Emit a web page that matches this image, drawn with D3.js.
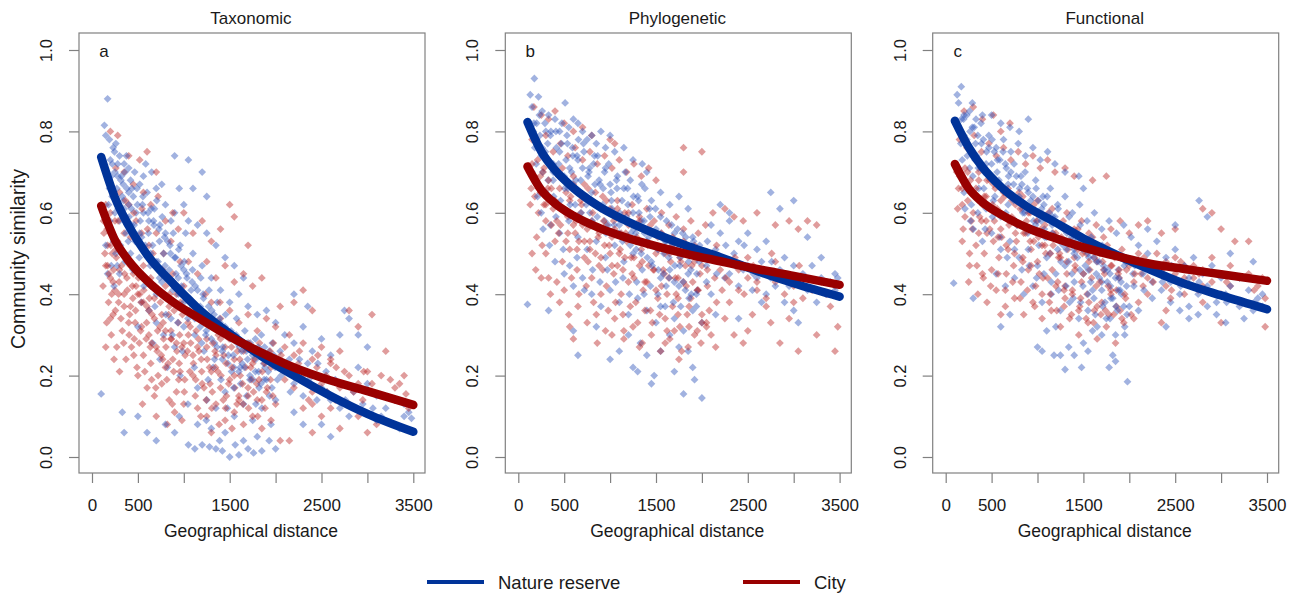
<!DOCTYPE html>
<html>
<head>
<meta charset="utf-8">
<script src="https://cdn.jsdelivr.net/npm/d3@7"></script>
<style>
  body { margin: 0; background: #fff; }
  text { font-family: "Liberation Sans", Arial, sans-serif; fill: #1a1a1a; }
</style>
</head>
<body>
<div id="chart"></div>
<script>
// fitted curves
var fitDist = [100, 250, 400, 600, 900, 1150, 1500, 1850, 2200, 2600, 3000, 3500]
var taxBlueFit = [.737, .637, .568, .497, .422, .366, .303, .247, .200, .150, .106, .062]
var taxRedFit = [.617, .533, .482, .433, .378, .343, .296, .256, .220, .188, .162, .128]
var phyBlueFit = [.823, .751, .705, .661, .613, .583, .548, .518, .491, .457, .427, .394]
var phyRedFit = [.714, .656, .623, .593, .561, .541, .518, .498, .481, .462, .445, .423]
var funBlueFit = [.826, .761, .712, .664, .613, .582, .537, .498, .463, .426, .397, .363]
var funRedFit = [.720, .660, .626, .596, .562, .541, .515, .494, .476, .462, .449, .433]

// scatter points [distance, similarity]
var taxBlue = [[170,.88],[135,.815],[150,.79],[190,.78],[230,.76],[260,.77],[300,.74],[350,.72],[200,.73],[250,.70],[280,.72],[320,.69],[360,.70],[400,.71],[420,.68],[380,.66],[330,.64],[270,.66],[220,.64],[180,.62],[160,.58],[200,.56],[250,.60],[300,.58],[350,.61],[400,.62],[450,.64],[480,.60],[430,.57],[370,.55],[310,.52],[260,.50],[210,.47],[170,.45],[150,.52],[240,.42],[300,.45],[360,.48],[420,.50],[470,.53],
  [520,.67],[560,.69],[600,.65],[650,.70],[700,.66],[760,.67],[800,.62],[560,.60],[620,.58],[680,.61],[740,.57],[800,.55],[860,.58],[900,.60],[950,.66],[1000,.62],[540,.54],[600,.50],[660,.52],[720,.48],[780,.50],[840,.46],[900,.49],[960,.52],[1020,.55],[580,.44],[640,.42],[700,.40],[760,.43],[820,.39],[880,.41],[940,.44],[1000,.46],[620,.36],[700,.33],[780,.30],[860,.34],[940,.37],[1000,.32],[660,.28],[740,.24],[820,.22],[900,.27],[960,.20],[540,.38],[500,.32],[900,.74],[1050,.73],[1200,.70],[1100,.66],[1250,.64],
  [1050,.58],[1150,.57],[1250,.55],[1350,.52],[1450,.49],[1550,.47],[1650,.44],[1100,.50],[1200,.47],[1300,.44],[1400,.41],[1500,.38],[1600,.40],[1700,.37],[1800,.35],[1900,.36],[2000,.33],[1080,.41],[1180,.37],[1280,.34],[1380,.31],[1480,.30],[1580,.28],[1680,.26],[1780,.29],[1880,.27],[1980,.25],[1120,.30],[1220,.26],[1320,.22],[1420,.24],[1520,.21],[1620,.18],[1720,.20],[1820,.17],[1920,.21],[2020,.19],[1150,.17],[1250,.14],[1350,.12],[1450,.16],[1550,.10],[1650,.13],[1750,.09],[1850,.12],[1950,.08],[1050,.03],[1120,.02],[1200,.03],[1280,.025],[1350,.02],[1420,.015],[1500,.0],[1600,.005],[1700,.02],[1850,.015],[2000,.02],[1150,.08],[1300,.07],[1450,.06],[1650,.04],[1800,.05],[900,.06],[950,.10],[800,.08],[700,.04],[600,.06],[500,.10],[350,.06],[330,.11],[100,.155],
  [2100,.30],[2200,.28],[2300,.32],[2400,.26],[2500,.29],[2600,.25],[2100,.22],[2200,.18],[2300,.15],[2400,.20],[2500,.17],[2600,.14],[2700,.12],[2800,.10],[2700,.30],[2800,.34],[2900,.30],[3000,.27],[2900,.22],[3000,.18],[3100,.15],[3200,.12],[3300,.14],[3400,.10],[3450,.11],[2300,.08],[2500,.08],[2750,.36],[3100,.09],[3300,.08],[3400,.13],[2600,.05],[2200,.11],[2000,.14],[2350,.37],[2200,.40]]
var taxBlueMore = [[210,.69],[245,.75],[285,.61],[315,.68],[345,.63],[375,.74],[405,.59],[435,.66],[465,.70],[495,.62],[525,.58],[555,.64],[585,.72],[615,.55],[645,.61],[675,.57],[705,.63],[735,.53],[765,.59],[795,.47],[825,.53],[855,.50],[885,.55],[915,.45],[945,.51],[975,.42],[1005,.48],[1035,.44],[1065,.39],[1095,.46],[1125,.42],[1155,.35],[1185,.44],[1215,.39],[1245,.31],[1275,.41],[1305,.36],[1335,.28],[1365,.38],[1395,.33],[1425,.27],[1455,.35],[1485,.25],[1515,.31],[1545,.22],[1575,.34],[1605,.27],[1635,.23],[1665,.31],[1695,.24],[1725,.28],[1755,.19],[1785,.24],[1815,.21],[1845,.30],[1875,.19],[1905,.24],[1935,.15],[1965,.28],[1995,.22],[2050,.26],[2150,.24],[2250,.21],[2350,.23],[2450,.14],[2550,.21],[2650,.19],[2850,.16],[2950,.13],[3150,.10],[3350,.07],[3480,.095],[195,.58],[235,.53],[275,.47],[395,.53],[445,.46],[515,.49],[565,.42],[635,.47],[685,.37],[735,.44],[805,.35],[875,.30],[935,.33],[985,.26],[1045,.34],[1115,.22],[1195,.28],[1265,.19],[1335,.24],[1405,.19],[1475,.12],[1545,.17],[1615,.22],[1685,.15],[1785,.13],[1885,.22],[1045,.13],[1245,.09],[1390,.04],[1560,.03],[1760,.01],[1930,.04]]
var taxBlueCore = [[160,.70],[190,.66],[220,.72],[250,.64],[280,.69],[310,.61],[340,.67],[370,.59],[400,.65],[430,.61],[460,.57],[490,.66],[520,.55],[550,.62],[580,.52],[610,.60],[640,.50],[670,.58],[700,.48],[730,.56],[760,.46],[790,.54],[820,.44],[850,.52],[880,.43],[910,.49],[940,.40],[970,.47],[1000,.38],[1030,.45],[1060,.36],[1090,.43],[1120,.34],[1150,.41],[1180,.32],[1210,.40],[1240,.30],[1270,.37],[1300,.29],[1330,.35],[1360,.27],[1390,.34],[1420,.26],[1450,.32],[1480,.23],[1510,.29],[1540,.25],[1570,.30],[1600,.21],[1630,.26],[1660,.22],[1690,.28],[1720,.19],[1750,.25],[1780,.21],[1810,.27],[1840,.18],[1870,.23],[1900,.19],[1930,.26],[1960,.17],[1990,.23],[2060,.20],[2160,.16],[2260,.24],[2360,.19],[2460,.23],[2560,.16],[2760,.14],[3060,.12]]

var taxRed = [[200,.80],[280,.79],[400,.74],[350,.70],[260,.71],[180,.68],[220,.66],[300,.65],[150,.62],[200,.60],[250,.58],[320,.60],[400,.62],[450,.67],[130,.55],[170,.52],[220,.50],[280,.53],[350,.55],[420,.54],[480,.58],[150,.47],[200,.44],[250,.41],[300,.46],[380,.48],[450,.45],[120,.42],[180,.38],[230,.35],[290,.38],[350,.40],[420,.37],[480,.42],[160,.33],[210,.30],[270,.27],[330,.31],[400,.33],[460,.29],[240,.24],[300,.21],[370,.24],[430,.27],[490,.22],[150,.27],[200,.34],
  [520,.73],[600,.75],[700,.70],[560,.65],[640,.62],[720,.64],[800,.58],[880,.60],[540,.55],[620,.52],[700,.55],[780,.50],[860,.53],[940,.56],[1000,.60],[560,.47],[640,.44],[720,.46],[800,.42],[880,.45],[960,.48],[520,.40],[600,.37],[680,.39],[760,.35],[840,.37],[920,.40],[1000,.42],[540,.32],[620,.30],[700,.27],[780,.29],[860,.31],[940,.33],[1000,.28],[560,.25],[640,.23],[720,.20],[800,.22],[880,.24],[960,.21],[600,.17],[680,.15],[760,.18],[840,.14],[920,.16],[1000,.13],[820,.08],[900,.11],[980,.09],[700,.10],[550,.13],[650,.19],[500,.20],
  [1100,.55],[1200,.58],[1300,.53],[1400,.56],[1500,.62],[1550,.59],[1700,.52],[1050,.48],[1150,.45],[1250,.48],[1350,.44],[1450,.47],[1550,.43],[1650,.45],[1750,.42],[1850,.44],[1100,.38],[1200,.35],[1300,.38],[1400,.34],[1500,.36],[1600,.33],[1700,.35],[1800,.31],[1900,.34],[2000,.32],[1050,.30],[1150,.27],[1250,.29],[1350,.25],[1450,.27],[1550,.24],[1650,.26],[1750,.23],[1850,.25],[1950,.22],[1100,.20],[1200,.18],[1300,.21],[1400,.17],[1500,.19],[1600,.15],[1700,.17],[1800,.14],[1900,.16],[2000,.13],[1150,.12],[1250,.10],[1350,.13],[1450,.09],[1550,.11],[1650,.08],[1750,.10],[1850,.07],[1950,.09],[2050,.04],[2150,.04],[1300,.06],[1600,.14],
  [2200,.38],[2300,.41],[2400,.36],[2100,.27],[2200,.25],[2300,.28],[2400,.24],[2500,.27],[2600,.23],[2700,.26],[2100,.19],[2200,.17],[2300,.20],[2400,.16],[2500,.18],[2600,.15],[2700,.17],[2800,.20],[2900,.18],[2300,.12],[2400,.13],[2500,.10],[2600,.12],[2800,.13],[2400,.06],[2700,.07],[2900,.10],[3000,.06],[3100,.08],[2800,.36],[2900,.32],[3050,.35],[3000,.21],[3150,.20],[3250,.19],[3350,.18],[3400,.20],[3300,.14],[3450,.12],[3200,.26],[2600,.24],[2050,.37]]
var taxRedMore = [[125,.58],[165,.56],[205,.52],[235,.46],[265,.49],[295,.43],[325,.50],[355,.45],[385,.41],[415,.47],[445,.39],[475,.36],[505,.44],[535,.38],[565,.41],[595,.33],[625,.39],[655,.35],[685,.42],[715,.31],[745,.38],[775,.33],[805,.27],[835,.35],[865,.29],[895,.36],[925,.26],[955,.30],[985,.35],[1015,.25],[1045,.33],[1075,.28],[1105,.23],[1135,.31],[1165,.26],[1195,.21],[1225,.33],[1255,.24],[1285,.18],[1315,.28],[1345,.22],[1375,.30],[1405,.20],[1435,.25],[1465,.15],[1495,.29],[1525,.22],[1555,.17],[1585,.26],[1615,.20],[1645,.13],[1675,.22],[1705,.28],[1735,.19],[1765,.24],[1795,.18],[1825,.28],[1855,.21],[1885,.12],[1915,.25],[1945,.19],[1975,.28],[2050,.22],[2150,.30],[2250,.23],[2350,.18],[2450,.22],[2550,.20],[2650,.14],[2750,.21],[2850,.16],[2950,.14],[3050,.18],[3150,.15],[3300,.17],[3420,.155],[185,.45],[215,.40],[255,.36],[315,.34],[345,.28],[405,.30],[455,.25],[515,.28],[575,.21],[635,.27],[695,.17],[755,.25],[815,.19],[875,.13],[945,.19],[1005,.16],[1065,.21],[1125,.15],[1185,.10],[1245,.14],[1305,.12],[1385,.08],[1455,.12],[1525,.07],[1705,.12],[1805,.10],[285,.58],[365,.63],[455,.60],[545,.61],[605,.56],[665,.50],[765,.46],[845,.40],[965,.38],[1235,.40],[1395,.38]]
var taxRedCore = [[140,.50],[170,.47],[200,.55],[230,.43],[260,.51],[290,.40],[320,.47],[350,.37],[380,.44],[410,.35],[440,.42],[470,.33],[500,.40],[530,.31],[560,.38],[590,.29],[620,.36],[650,.28],[680,.34],[710,.26],[740,.32],[770,.24],[800,.31],[830,.23],[860,.29],[890,.21],[920,.28],[950,.23],[980,.27],[1010,.19],[1040,.26],[1070,.32],[1100,.25],[1130,.19],[1160,.29],[1190,.24],[1220,.17],[1250,.27],[1280,.22],[1310,.16],[1340,.26],[1370,.21],[1400,.29],[1430,.14],[1460,.23],[1490,.18],[1520,.27],[1550,.20],[1580,.13],[1610,.24],[1640,.18],[1670,.27],[1700,.15],[1730,.22],[1760,.16],[1790,.26],[1820,.19],[1850,.14],[1880,.23],[1910,.17],[1940,.26],[1970,.15],[2060,.25],[2160,.21],[2260,.26],[2360,.14],[2460,.25],[2560,.16],[2660,.22],[2960,.21]]

var phyBlue = [[175,.93],[130,.89],[220,.885],[510,.87],[150,.86],[260,.85],[330,.84],[400,.83],[300,.80],[200,.82],[450,.80],[550,.81],[600,.83],[650,.82],[700,.80],[750,.78],[800,.79],[850,.77],[900,.80],[950,.76],[1000,.79],[1050,.75],[1150,.76],[1250,.73],[1350,.72],[1400,.70],[180,.76],[250,.74],[320,.77],[380,.72],[450,.75],[520,.73],[580,.70],[640,.74],[700,.71],[760,.69],[820,.72],[880,.68],[940,.70],[1000,.67],[1080,.69],[1150,.66],[1220,.68],[1300,.64],[1380,.66],[1450,.63],[1550,.65],[1650,.62],[1750,.64],[1850,.61],
  [150,.70],[220,.67],[300,.65],[380,.68],[460,.63],[540,.66],[620,.62],[700,.64],[780,.60],[860,.62],[940,.58],[1020,.61],[1100,.57],[1180,.59],[1260,.56],[1340,.58],[1420,.54],[1500,.56],[1600,.53],[1700,.55],[1800,.52],[1900,.54],[2000,.50],[250,.60],[350,.57],[450,.55],[550,.58],[650,.54],[750,.51],[850,.53],[950,.49],[1050,.52],[1150,.48],[1250,.50],[1350,.46],[1450,.48],[1550,.44],[1650,.46],[1750,.42],[1850,.45],[1950,.41],[2050,.43],
  [400,.48],[500,.45],[600,.42],[700,.44],[800,.40],[900,.37],[1000,.41],[1100,.38],[1200,.35],[1300,.39],[1400,.36],[1500,.33],[1600,.37],[1700,.34],[1800,.31],[1900,.36],[2000,.33],[100,.375],[330,.36],[600,.31],[650,.25],[850,.32],[1000,.24],[1100,.26],[1200,.30],[1250,.22],[1300,.21],[1330,.28],[1400,.25],[1450,.18],[1480,.20],[1550,.26],[1700,.21],[1750,.27],[1800,.155],[1850,.26],[1900,.22],[1920,.19],[2000,.145],[1650,.30],[1550,.37],
  [2100,.57],[2200,.55],[2300,.58],[2400,.53],[2500,.55],[2600,.51],[2700,.53],[2750,.65],[2850,.61],[3000,.63],[2900,.49],[3000,.47],[3100,.45],[3200,.47],[3300,.44],[3400,.43],[3450,.45],[3480,.44],[2200,.48],[2300,.45],[2400,.42],[2500,.47],[2600,.44],[2700,.40],[2800,.42],[2900,.38],[3000,.36],[3050,.33],[3250,.38],[3150,.54],[3300,.49],[2150,.35],[2400,.34],[2650,.38],[2100,.40],[2200,.62],[2300,.60]]
var phyBlueMore = [[165,.80],[195,.72],[235,.79],[265,.70],[295,.75],[325,.68],[355,.80],[385,.64],[415,.76],[445,.69],[475,.82],[505,.66],[535,.77],[565,.62],[595,.74],[625,.68],[655,.78],[685,.60],[715,.75],[745,.64],[775,.71],[805,.58],[835,.67],[865,.74],[895,.61],[925,.66],[955,.55],[985,.72],[1015,.63],[1045,.57],[1075,.66],[1105,.60],[1135,.53],[1165,.70],[1195,.62],[1225,.55],[1255,.64],[1285,.51],[1315,.60],[1345,.67],[1375,.55],[1405,.49],[1435,.59],[1465,.52],[1495,.61],[1525,.46],[1555,.55],[1585,.50],[1615,.58],[1645,.44],[1675,.52],[1705,.47],[1735,.56],[1765,.49],[1795,.43],[1825,.54],[1855,.48],[1885,.40],[1915,.50],[1945,.45],[1975,.52],[2050,.47],[2150,.51],[2250,.44],[2350,.50],[2450,.46],[2550,.41],[2650,.48],[2750,.44],[2850,.46],[2950,.42],[3150,.41],[3350,.40],[3450,.41],[210,.64],[270,.56],[340,.52],[410,.59],[490,.51],[560,.47],[640,.49],[720,.41],[810,.46],[890,.43],[970,.46],[1060,.43],[1140,.44],[1210,.40],[1290,.43],[1370,.40],[1440,.42],[1520,.40],[1610,.42],[1690,.38],[1770,.37],[1860,.39],[1940,.37]]
var phyBlueCore = [[170,.82],[200,.78],[230,.84],[260,.76],[290,.82],[320,.73],[350,.79],[380,.70],[410,.80],[440,.72],[470,.77],[500,.69],[530,.79],[560,.71],[590,.76],[620,.66],[650,.73],[680,.68],[710,.77],[740,.62],[770,.70],[800,.65],[830,.74],[860,.59],[890,.67],[920,.62],[950,.71],[980,.57],[1010,.65],[1040,.60],[1070,.68],[1100,.55],[1130,.63],[1160,.58],[1190,.66],[1220,.52],[1250,.60],[1280,.55],[1310,.63],[1340,.50],[1370,.58],[1400,.53],[1430,.61],[1460,.47],[1490,.55],[1520,.51],[1550,.59],[1580,.45],[1610,.53],[1640,.49],[1670,.57],[1700,.43],[1730,.51],[1760,.47],[1790,.55],[1820,.41],[1850,.50],[1880,.46],[1910,.53],[1940,.40],[1970,.48],[2060,.53],[2160,.45],[2260,.52],[2360,.47],[2460,.52],[2560,.45],[2760,.48],[3060,.44],[3360,.43]]

var phyRed = [[170,.86],[250,.84],[330,.83],[400,.85],[500,.82],[600,.80],[700,.81],[800,.79],[1000,.78],[1050,.77],[150,.78],[220,.76],[300,.79],[380,.75],[460,.77],[540,.74],[620,.76],[700,.73],[780,.75],[860,.72],[940,.74],[1020,.71],[1100,.73],[1180,.70],[1260,.72],[1340,.69],[1420,.71],[1500,.68],[1800,.76],[2000,.75],[1800,.70],
  [120,.70],[200,.68],[280,.71],[360,.66],[440,.69],[520,.65],[600,.67],[680,.63],[760,.66],[840,.62],[920,.64],[1000,.61],[1080,.63],[1160,.60],[1240,.62],[1320,.59],[1400,.61],[1480,.58],[1560,.60],[1640,.57],[1720,.59],[1800,.56],[1880,.58],[1960,.55],[2040,.57],[2120,.60],[2250,.61],[2350,.59],[2450,.58],[2600,.60],[2800,.57],[2950,.58],[3050,.56],[3150,.58],[3250,.57],
  [130,.62],[220,.60],[300,.58],[380,.61],[460,.57],[540,.59],[620,.55],[700,.57],[780,.53],[860,.56],[940,.52],[1020,.54],[1100,.50],[1180,.53],[1260,.49],[1340,.51],[1420,.47],[1500,.50],[1580,.46],[1660,.48],[1740,.44],[1820,.47],[1900,.43],[1980,.45],[2060,.42],[2140,.44],[2220,.41],[2300,.43],[2400,.46],[2500,.44],[2600,.41],[2700,.45],[2800,.43],[2900,.40],[3000,.42],[3100,.39],[3200,.41],
  [200,.54],[300,.50],[400,.53],[480,.48],[560,.51],[640,.46],[720,.49],[800,.44],[880,.47],[960,.42],[1040,.45],[1120,.40],[1200,.43],[1280,.38],[1360,.41],[1440,.36],[1520,.39],[1600,.34],[1680,.37],[1760,.32],[1840,.35],[1920,.30],[2000,.33],[2080,.36],[2160,.38],[250,.44],[350,.40],[450,.38],[550,.35],[650,.37],[750,.33],[850,.35],[950,.31],[1050,.34],[1150,.29],[1250,.32],[1350,.28],[1450,.30],[1550,.26],[1650,.29],[1750,.24],[1850,.27],[1950,.31],[2050,.33],[2150,.27],[2350,.30],[2450,.28],[2850,.28],[3050,.26],[3250,.30],[3450,.26],[3480,.32],[3400,.37],[2550,.35],[2750,.33],[2950,.34],[150,.50],[600,.29],[1150,.31],[1700,.31],[2000,.35],[2050,.32]]
var phyRedMore = [[140,.66],[180,.64],[240,.69],[280,.62],[320,.66],[360,.57],[400,.63],[440,.55],[480,.61],[520,.53],[560,.63],[600,.57],[640,.51],[680,.60],[720,.53],[760,.48],[800,.58],[840,.50],[880,.55],[920,.46],[960,.57],[1000,.50],[1040,.58],[1080,.47],[1120,.55],[1160,.49],[1200,.57],[1240,.45],[1280,.53],[1320,.47],[1360,.56],[1400,.43],[1440,.52],[1480,.46],[1520,.54],[1560,.42],[1600,.50],[1640,.44],[1680,.52],[1720,.40],[1760,.49],[1800,.43],[1840,.51],[1880,.39],[1920,.48],[1960,.41],[2000,.47],[2100,.49],[2200,.46],[2300,.38],[2400,.41],[2500,.49],[2600,.43],[2700,.39],[2800,.48],[2900,.45],[3000,.38],[3100,.44],[3300,.43],[3450,.42],[190,.46],[260,.52],[330,.44],[420,.43],[500,.41],[580,.44],[660,.40],[740,.42],[820,.38],[900,.40],[980,.36],[1060,.38],[1140,.35],[1220,.37],[1300,.33],[1380,.36],[1460,.33],[1540,.35],[1620,.31],[1740,.35],[1860,.32],[1990,.28],[2100,.30],[2250,.34],[2500,.31],[2700,.37],[560,.32],[860,.28],[1020,.30],[1320,.27],[1600,.28],[1780,.26]]
var phyRedCore = [[150,.72],[180,.69],[210,.73],[240,.65],[270,.70],[300,.62],[330,.68],[360,.72],[390,.63],[420,.58],[450,.66],[480,.71],[510,.60],[540,.55],[570,.64],[600,.69],[630,.58],[660,.53],[690,.62],[720,.67],[750,.56],[780,.51],[810,.60],[840,.65],[870,.54],[900,.49],[930,.58],[960,.63],[990,.52],[1020,.47],[1050,.56],[1080,.61],[1110,.51],[1140,.46],[1170,.55],[1200,.60],[1230,.49],[1260,.44],[1290,.54],[1320,.58],[1350,.48],[1380,.43],[1410,.52],[1440,.57],[1470,.46],[1500,.41],[1530,.51],[1560,.55],[1590,.45],[1620,.40],[1650,.50],[1680,.54],[1710,.44],[1740,.39],[1770,.48],[1800,.53],[1830,.42],[1860,.37],[1890,.47],[1920,.52],[1950,.41],[2060,.46],[2160,.52],[2260,.44],[2360,.49],[2460,.40],[2560,.47],[2760,.50],[3060,.47],[3360,.40]]

var funBlue = [[170,.91],[125,.89],[140,.87],[290,.87],[200,.84],[260,.85],[330,.83],[400,.84],[500,.84],[600,.82],[700,.81],[800,.80],[900,.83],[150,.80],[230,.78],[310,.81],[390,.77],[470,.79],[550,.76],[630,.78],[710,.75],[790,.77],[870,.74],[950,.76],[1030,.73],[1110,.75],[1190,.72],[1300,.70],[1450,.69],[1500,.66],
  [180,.73],[260,.71],[340,.74],[420,.70],[500,.72],[580,.68],[660,.71],[740,.67],[820,.69],[900,.65],[980,.68],[1060,.64],[1140,.66],[1220,.62],[1300,.64],[1380,.60],[1460,.62],[1540,.58],[1620,.60],[1700,.56],[1780,.58],[1860,.55],[1940,.57],[2020,.54],[200,.65],[280,.62],[360,.66],[440,.61],[520,.63],[600,.59],[680,.62],[760,.58],[840,.60],[920,.56],[1000,.58],[1080,.54],[1160,.57],[1240,.53],[1320,.55],[1400,.51],[1480,.53],[1560,.49],[1640,.51],[1720,.47],[1800,.50],[1880,.46],[1960,.48],[2040,.45],
  [300,.56],[400,.53],[500,.55],[600,.51],[700,.53],[800,.49],[900,.51],[1000,.47],[1100,.49],[1200,.45],[1300,.47],[1400,.43],[1500,.45],[1600,.41],[1700,.43],[1800,.39],[1900,.41],[2000,.37],[550,.45],[650,.42],[750,.44],[850,.40],[950,.42],[1050,.38],[1150,.40],[1250,.36],[1350,.38],[1450,.34],[1550,.36],[1650,.32],[1750,.34],[1850,.30],[1950,.32],[87,.427],[300,.39],[600,.32],[700,.35],[1000,.27],[1050,.26],[1100,.31],[1180,.25],[1250,.25],[1300,.215],[1340,.27],[1400,.25],[1480,.22],[1500,.28],[1550,.26],[1700,.30],[1780,.22],[1820,.25],[1850,.235],[1950,.30],[1980,.185],[1200,.32],[1600,.31],
  [2100,.52],[2200,.50],[2300,.53],[2400,.49],[2500,.51],[2600,.47],[2700,.49],[2760,.63],[2850,.59],[2800,.45],[2900,.47],[3000,.44],[3100,.42],[3200,.44],[3300,.41],[3400,.39],[3450,.37],[2150,.45],[2250,.43],[2350,.41],[2450,.38],[2550,.40],[2650,.37],[2750,.35],[2850,.37],[2950,.35],[3050,.33],[3250,.34],[2400,.32],[2650,.34],[2100,.36],[2200,.56],[2500,.57],[3100,.50],[3350,.48]]
var funBlueMore = [[165,.77],[195,.83],[235,.74],[265,.80],[295,.69],[325,.77],[355,.71],[385,.82],[415,.66],[445,.75],[475,.69],[505,.78],[535,.64],[565,.73],[595,.67],[625,.75],[655,.60],[685,.69],[715,.64],[745,.72],[775,.57],[805,.66],[835,.61],[865,.70],[895,.55],[925,.63],[955,.58],[985,.66],[1015,.52],[1045,.61],[1075,.56],[1105,.64],[1135,.50],[1165,.59],[1195,.54],[1225,.61],[1255,.48],[1285,.56],[1315,.51],[1345,.59],[1375,.45],[1405,.54],[1435,.49],[1465,.57],[1495,.42],[1525,.51],[1555,.46],[1585,.54],[1615,.39],[1645,.48],[1675,.44],[1705,.52],[1735,.38],[1765,.46],[1795,.42],[1825,.50],[1855,.37],[1885,.44],[1915,.40],[1945,.47],[1975,.35],[2050,.42],[2150,.48],[2250,.39],[2350,.46],[2450,.43],[2550,.36],[2650,.44],[2750,.40],[2850,.42],[2950,.38],[3050,.40],[3200,.37],[3350,.36],[3450,.40],[210,.61],[270,.58],[350,.60],[430,.56],[510,.59],[590,.54],[670,.49],[750,.51],[830,.46],[910,.47],[990,.44],[1070,.45],[1150,.43],[1230,.41],[1310,.42],[1390,.39],[1470,.38],[1550,.40],[1630,.35],[1710,.37],[1790,.34],[1870,.36]]
var funBlueCore = [[170,.83],[200,.79],[230,.84],[260,.76],[290,.81],[320,.73],[350,.79],[380,.71],[410,.78],[440,.72],[470,.76],[500,.69],[530,.75],[560,.70],[590,.73],[620,.66],[650,.72],[680,.67],[710,.70],[740,.63],[770,.69],[800,.64],[830,.67],[860,.60],[890,.66],[920,.61],[950,.64],[980,.57],[1010,.63],[1040,.58],[1070,.62],[1100,.54],[1130,.60],[1160,.55],[1190,.59],[1220,.51],[1250,.57],[1280,.52],[1310,.56],[1340,.48],[1370,.54],[1400,.50],[1430,.53],[1460,.46],[1490,.51],[1520,.47],[1550,.50],[1580,.43],[1610,.49],[1640,.45],[1670,.48],[1700,.41],[1730,.46],[1760,.43],[1790,.45],[1820,.39],[1850,.44],[1880,.41],[1910,.43],[1940,.37],[1970,.42],[2060,.47],[2160,.41],[2260,.47],[2360,.43],[2460,.47],[2560,.42],[2760,.43],[3060,.38],[3360,.38]]

var funRed = [[200,.85],[300,.86],[400,.83],[520,.84],[600,.80],[700,.82],[150,.78],[230,.76],[310,.79],[390,.75],[470,.77],[550,.74],[630,.76],[710,.73],[790,.75],[870,.72],[950,.74],[1030,.71],[1110,.73],[1190,.70],[1300,.71],[1400,.69],[1600,.68],[1750,.69],
  [120,.70],[200,.68],[280,.65],[360,.68],[440,.64],[520,.67],[600,.63],[680,.66],[760,.62],[840,.64],[920,.60],[1000,.63],[1080,.59],[1160,.61],[1240,.57],[1320,.60],[1400,.56],[1480,.58],[1560,.55],[1640,.57],[1720,.54],[1800,.56],[1900,.58],[2000,.55],[2100,.57],[2200,.58],[2350,.55],[2500,.56],[2800,.61],[2900,.60],[3000,.56],[3150,.53],[3300,.53],
  [130,.61],[210,.59],[290,.56],[370,.59],[450,.55],[530,.58],[610,.54],[690,.57],[770,.53],[850,.55],[930,.51],[1010,.54],[1090,.50],[1170,.52],[1250,.49],[1330,.51],[1410,.47],[1490,.50],[1570,.46],[1650,.48],[1730,.45],[1810,.47],[1890,.44],[1970,.46],[2050,.43],[2130,.45],[2210,.47],[2300,.50],[2400,.48],[2500,.45],[2600,.47],[2700,.44],[2800,.46],[2900,.43],[3000,.45],[3100,.42],[3200,.44],[3400,.42],[3480,.39],
  [180,.53],[260,.50],[340,.47],[420,.50],[500,.46],[580,.49],[660,.45],[740,.47],[820,.43],[900,.46],[980,.42],[1060,.44],[1140,.40],[1220,.43],[1300,.39],[1380,.41],[1460,.37],[1540,.40],[1620,.36],[1700,.38],[1780,.35],[1860,.37],[1940,.33],[2020,.35],[2100,.38],[2200,.40],[2400,.36],[2600,.40],[2800,.38],[3000,.33],[3200,.38],[3480,.32],[250,.43],[350,.40],[450,.38],[550,.41],[650,.37],[750,.39],[850,.35],[950,.38],[1050,.34],[1150,.36],[1250,.32],[1350,.34],[1450,.30],[1550,.33],[1650,.29],[1750,.32],[1850,.28],[2050,.34],[2350,.33],[600,.35],[400,.45],[1300,.42],[1800,.41]]
var funRedMore = [[140,.66],[180,.62],[240,.70],[280,.58],[320,.64],[360,.55],[400,.62],[440,.58],[480,.68],[520,.53],[560,.61],[600,.56],[640,.64],[680,.51],[720,.59],[760,.55],[800,.65],[840,.49],[880,.58],[920,.53],[960,.62],[1000,.48],[1040,.56],[1080,.52],[1120,.60],[1160,.46],[1200,.55],[1240,.50],[1280,.58],[1320,.45],[1360,.53],[1400,.49],[1440,.56],[1480,.43],[1520,.52],[1560,.48],[1600,.54],[1640,.42],[1680,.50],[1720,.46],[1760,.52],[1800,.40],[1840,.49],[1880,.45],[1920,.51],[1960,.39],[2000,.47],[2100,.50],[2200,.44],[2300,.47],[2400,.42],[2500,.49],[2600,.44],[2700,.47],[2800,.42],[2900,.49],[3000,.40],[3100,.47],[3300,.45],[3450,.44],[190,.56],[260,.47],[330,.52],[410,.44],[490,.42],[570,.45],[650,.41],[730,.43],[810,.39],[890,.41],[970,.37],[1050,.40],[1130,.38],[1210,.36],[1290,.37],[1370,.35],[1450,.36],[1530,.34],[1610,.33],[1690,.35],[1900,.36],[2150,.42],[2450,.39],[2750,.41]]
var funRedCore = [[150,.69],[180,.66],[210,.71],[240,.63],[270,.68],[300,.60],[330,.66],[360,.70],[390,.58],[420,.64],[450,.68],[480,.56],[510,.62],[540,.66],[570,.54],[600,.60],[630,.65],[660,.52],[690,.58],[720,.63],[750,.50],[780,.57],[810,.61],[840,.48],[870,.55],[900,.60],[930,.47],[960,.53],[990,.58],[1020,.45],[1050,.52],[1080,.57],[1110,.44],[1140,.50],[1170,.55],[1200,.42],[1230,.49],[1260,.54],[1290,.41],[1320,.48],[1350,.53],[1380,.40],[1410,.46],[1440,.51],[1470,.39],[1500,.45],[1530,.50],[1560,.38],[1590,.44],[1620,.49],[1650,.37],[1680,.43],[1710,.48],[1740,.36],[1770,.42],[1800,.47],[1830,.35],[1860,.41],[1890,.46],[1920,.34],[1950,.40],[2060,.45],[2160,.49],[2260,.43],[2360,.46],[2460,.41],[2560,.48],[2760,.45],[3060,.43],[3360,.41]]

var titles = ["Taxonomic", "Phylogenetic", "Functional"]
var tags = ["a", "b", "c"]
var xTicks = [0, 500, 1000, 1500, 2000, 2500, 3000, 3500]
var xLabels = [0, 500, 1500, 2500, 3500]
var yTicks = [0, 0.2, 0.4, 0.6, 0.8, 1.0]

var W = 1298, H = 593
var svg = d3.select("#chart").append("svg").attr("width", W).attr("height", H)

var panelLeft = [79, 505.3, 932.7]
var boxW = 346, boxTop = 33, boxH = 440

var blueLine = "#003399", redLine = "#990000"
var bluePt = "rgba(40,80,185,0.44)", redPt = "rgba(185,30,30,0.44)"

var panels = [
    {blue: taxBlue.concat(taxBlueMore, taxBlueCore), red: taxRed.concat(taxRedMore, taxRedCore), blueFit: taxBlueFit, redFit: taxRedFit},
    {blue: phyBlue.concat(phyBlueMore, phyBlueCore), red: phyRed.concat(phyRedMore, phyRedCore), blueFit: phyBlueFit, redFit: phyRedFit},
    {blue: funBlue.concat(funBlueMore, funBlueCore), red: funRed.concat(funRedMore, funRedCore), blueFit: funBlueFit, redFit: funRedFit}
]

var diamond = "M0,-3.9L3.9,0L0,3.9L-3.9,0Z"

panels.forEach(function (p, i) {
    var L = panelLeft[i]
    var x = d3.scaleLinear().domain([0, 3500]).range([L + 13, L + 334.3])
    var y = d3.scaleLinear().domain([0, 1]).range([457, 50])
    var g = svg.append("g")

    // box
    g.append("rect")
        .attr("x", L).attr("y", boxTop)
        .attr("width", boxW).attr("height", boxH)
        .attr("fill", "none").attr("stroke", "#808080").attr("stroke-width", 1.2)

    // x axis
    var xa = g.append("g").attr("transform", "translate(0," + (boxTop + boxH) + ")")
        .call(d3.axisBottom(x).tickValues(xTicks).tickSize(10).tickFormat(function (d) {
            return xLabels.indexOf(d) >= 0 ? d : ""
        }))
    xa.select(".domain").remove()
    xa.selectAll("line").attr("stroke", "#808080").attr("stroke-width", 1.2)
    xa.selectAll("text").attr("font-size", 17).attr("dy", 0).attr("y", 38).attr("fill", "#1a1a1a")

    // y axis
    var ya = g.append("g").attr("transform", "translate(" + L + ",0)")
        .call(d3.axisLeft(y).tickValues(yTicks).tickSize(10).tickFormat(d3.format(".1f")))
    ya.select(".domain").remove()
    ya.selectAll("line").attr("stroke", "#808080").attr("stroke-width", 1.2)
    ya.selectAll("text")
        .attr("font-size", 16.5).attr("fill", "#1a1a1a")
        .attr("x", 0).attr("dy", 0)
        .attr("text-anchor", "middle")
        .attr("transform", "translate(-27,0) rotate(-90)")

    // points, interleaved so neither colour sits entirely on top
    var n = Math.max(p.blue.length, p.red.length)
    var pts = []
    for (var k = 0; k < n; k++) {
        if (k < p.blue.length) pts.push({d: p.blue[k], c: bluePt})
        if (k < p.red.length) pts.push({d: p.red[k], c: redPt})
    }
    g.append("g").selectAll("path").data(pts).enter().append("path")
        .attr("d", diamond)
        .attr("transform", function (d) { return "translate(" + x(d.d[0]) + "," + y(d.d[1]) + ")" })
        .attr("fill", function (d) { return d.c })

    // fitted curves
    var line = d3.line()
        .x(function (d, k) { return x(fitDist[k]) })
        .y(function (d) { return y(d) })
        .curve(d3.curveMonotoneX)
    g.append("path").datum(p.blueFit).attr("d", line)
        .attr("fill", "none").attr("stroke", blueLine).attr("stroke-width", 8.5)
        .attr("stroke-linecap", "round")
    g.append("path").datum(p.redFit).attr("d", line)
        .attr("fill", "none").attr("stroke", redLine).attr("stroke-width", 8.5)
        .attr("stroke-linecap", "round")

    // labels
    g.append("text").attr("x", L + boxW / 2 - 1).attr("y", 24)
        .attr("text-anchor", "middle").attr("font-size", 17).text(titles[i])
    g.append("text").attr("x", L + 25).attr("y", 57)
        .attr("text-anchor", "middle").attr("font-size", 17).text(tags[i])
    g.append("text").attr("x", L + boxW / 2 - 1).attr("y", 537)
        .attr("text-anchor", "middle").attr("font-size", 17.5).text("Geographical distance")
})

svg.append("text")
    .attr("transform", "translate(25,259) rotate(-90)")
    .attr("text-anchor", "middle").attr("font-size", 19.5)
    .text("Community similarity")

// legend
var legend = [
    {name: "Nature reserve", color: blueLine, x: 427},
    {name: "City", color: redLine, x: 743}
]
var lg = svg.append("g")
legend.forEach(function (l) {
    lg.append("line").attr("x1", l.x).attr("x2", l.x + 57).attr("y1", 582).attr("y2", 582)
        .attr("stroke", l.color).attr("stroke-width", 4)
    lg.append("text").attr("x", l.x + 71).attr("y", 589)
        .attr("font-size", 18.5).text(l.name)
})
</script>
</body>
</html>
